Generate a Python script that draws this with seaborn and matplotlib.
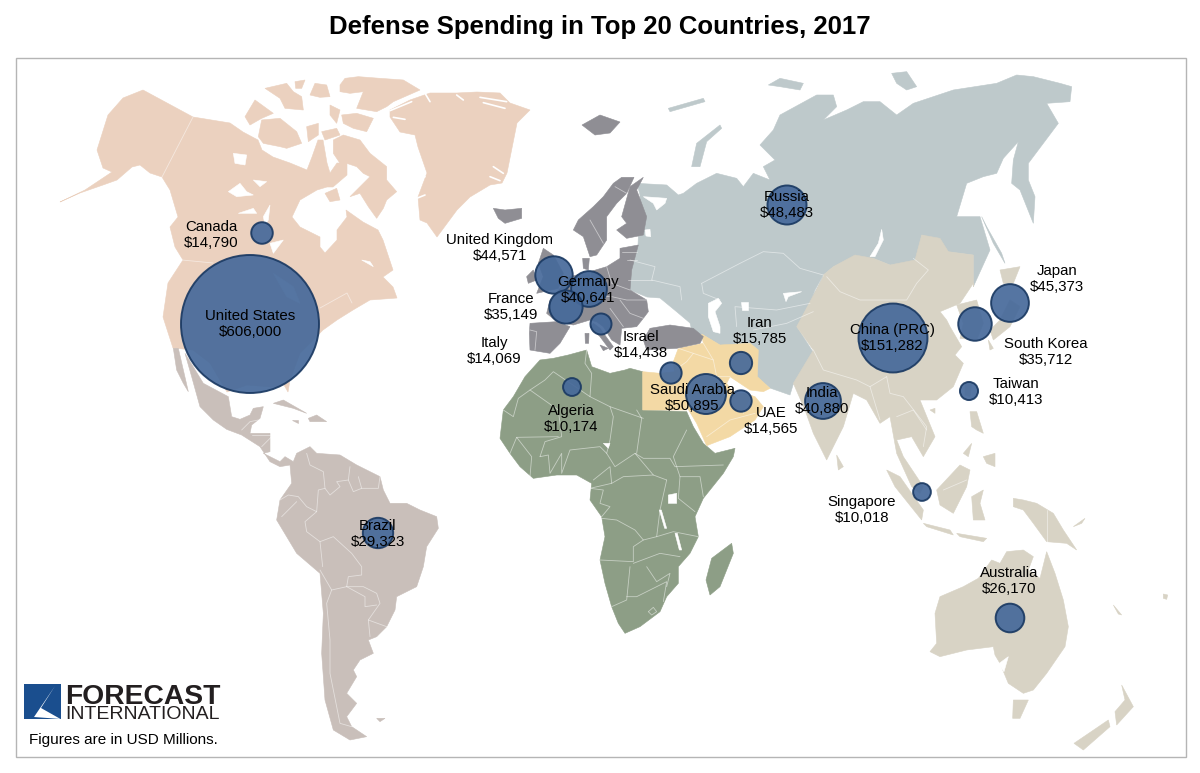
import pandas as pd
import matplotlib.pyplot as plt
import seaborn as sns
from matplotlib.patches import Polygon, Rectangle

# spending figures and where each bubble / label sits on the map
countries = ['United States', 'China (PRC)', 'Saudi Arabia', 'Russia', 'Japan', 'United Kingdom', 'India', 'Germany',
             'South Korea', 'France', 'Brazil', 'Australia', 'Iran', 'Canada', 'UAE', 'Israel', 'Italy', 'Taiwan',
             'Algeria', 'Singapore']
spending = [606000, 151282, 50895, 48483, 45373, 44571, 40880, 40641, 35712, 35149, 29323, 26170, 15785, 14790,
            14565, 14438, 14069, 10413, 10174, 10018]
bubble_x = [250, 893, 706, 787, 1010, 554, 823, 589, 975, 566, 378, 1010, 741, 262, 741, 671, 601, 969, 572, 922]
bubble_y = [324, 338, 394, 205, 303, 275, 401, 289, 324, 307, 533, 618, 363, 233, 401, 373, 324, 391, 387, 492]
label_x = [250, 892, 692, 787, 1057, 500, 822, 588, 1046, 511, 378, 1009, 760, 211, 771, 641, 494, 1016, 571, 862]
label_y = [324, 338, 398, 205, 279, 248, 401, 290, 352, 307, 534, 581, 331, 235, 421, 345, 351, 392, 419, 510]


def crop(x0, y0, pts):
    return [(x0 + x / 3, y0 + y / 3) for x, y in pts]


# North America
north_america = [(60, 202), (80, 193), (103, 185), (117, 180), (132, 167), (140, 165), (150, 173), (162, 177), (170, 190),
                 (178, 217), (170, 227), (175, 247), (183, 260), (168, 283), (163, 317), (173, 348), (193, 350), (210, 363),
                 (227, 392), (247, 385), (273, 387), (284, 385), (288, 392), (290, 380), (300, 353), (323, 330), (337, 320),
                 (353, 310), (370, 300), (397, 298), (393, 287), (383, 277), (393, 270), (383, 240), (378, 230), (363, 222),
                 (346, 210), (347, 217), (337, 230), (337, 240), (325, 253), (320, 247), (320, 237), (300, 227), (292, 217),
                 (300, 200), (317, 190), (327, 187), (333, 187), (347, 175), (347, 163), (337, 163), (330, 173), (327, 163),
                 (323, 140), (318, 140), (312, 157), (307, 170), (290, 163), (273, 157), (262, 150), (258, 140), (243, 132),
                 (230, 123), (193, 117), (143, 90), (123, 98), (108, 115), (97, 150), (103, 168), (112, 172), (85, 190)]
arctic_islands = [crop(230, 60, shape) for shape in [
    [(45, 170), (75, 120), (130, 160), (95, 175), (60, 195)],
    [(85, 230), (95, 180), (150, 175), (200, 215), (215, 250), (170, 265), (150, 260), (100, 250)],
    [(105, 85), (170, 70), (190, 95), (215, 110), (220, 150), (165, 145), (150, 115)],
    [(195, 65), (225, 60), (215, 85), (197, 85)],
    [(255, 70), (290, 75), (300, 110), (270, 112), (240, 105)],
    [(330, 75), (345, 55), (385, 50), (450, 55), (520, 60), (570, 90), (490, 125), (470, 140), (440, 155), (380, 145), (400, 95), (360, 100), (330, 95)],
    [(335, 165), (380, 160), (430, 175), (410, 215), (370, 205), (340, 190)],
    [(300, 135), (330, 150), (320, 190), (300, 165)],
    [(230, 200), (265, 190), (265, 225), (235, 245)],
    [(275, 215), (320, 205), (330, 225), (285, 240)],
    [(310, 240), (340, 225), (390, 240), (420, 280), (470, 320), (470, 360), (500, 395), (470, 420), (460, 445),
     (440, 475), (415, 440), (390, 400), (360, 410), (400, 370), (420, 350), (400, 340), (380, 320), (350, 310),
     (330, 310), (310, 280)],
    [(285, 400), (320, 385), (330, 420), (300, 425)],
]]
greenland = [(390, 110), (410, 100), (430, 93), (457, 93), (477, 92), (500, 93), (510, 103), (530, 110), (517, 123), (513, 143),
             (507, 173), (502, 183), (490, 185), (470, 197), (457, 210), (437, 237), (427, 223), (420, 220), (418, 197),
             (427, 173), (418, 147), (415, 135), (400, 132), (390, 117)]
greenland_fjords = [crop(230, 60, line) for line in [
    [(750, 112), (830, 125)], [(760, 128), (825, 145)], [(790, 320), (820, 340)], [(780, 350), (810, 362)],
    [(490, 172), (525, 178)], [(480, 152), (545, 125)], [(585, 100), (600, 125)], [(680, 105), (700, 120)],
    [(565, 355), (585, 350)], [(560, 415), (585, 405)],
]]
na_lakes = [
    crop(60, 70, [(505, 365), (540, 340), (560, 365), (580, 375), (530, 380)]),
    crop(60, 70, [(535, 430), (580, 415), (590, 430), (550, 430)]),
    crop(60, 70, [(610, 440), (630, 405), (625, 450), (615, 465)]),
    crop(60, 70, [(520, 250), (560, 255), (555, 285), (525, 280)]),
    crop(60, 70, [(580, 330), (620, 335), (600, 350)]),
    crop(60, 70, [(630, 520), (670, 510), (640, 550)]),
    crop(60, 70, [(905, 570), (930, 575), (940, 590)]),
    crop(60, 70, [(640, 610), (700, 650), (720, 700), (680, 680)]),
]
na_borders = [
    [(193, 117), (162, 177)],
    [(182, 260), (213, 263)],
    [(320, 308), (347, 293), (352, 303)],
]

# Latin America
latin_america = crop(170, 340, [
    (45, 40), (100, 130), (175, 170), (185, 230), (210, 238), (240, 225), (250, 205), (280, 200), (270, 235), (245, 255), (240, 280),
    (300, 280), (300, 335), (280, 340), (330, 365), (345, 350), (370, 365), (380, 340), (420, 320), (440, 340), (510, 345), (560, 375),
    (630, 410), (640, 450), (660, 490), (710, 490), (750, 510), (800, 530), (805, 565), (770, 620), (760, 680), (740, 740), (680, 770),
    (675, 810), (650, 860), (620, 890), (595, 900), (610, 940), (570, 960), (550, 990), (560, 1010), (530, 1060), (560, 1090), (530, 1130),
    (545, 1160), (590, 1190), (540, 1200), (490, 1170), (465, 1080), (455, 940), (460, 820), (450, 700), (380, 640), (320, 540), (330, 480),
    (365, 430), (360, 375), (330, 380), (300, 365), (270, 320), (215, 285), (170, 268), (130, 240), (90, 200), (65, 110)])
latin_islands = [
    crop(170, 340, [(10, 25), (25, 25), (55, 155), (40, 130), (20, 90)]),
    crop(170, 340, [(310, 190), (340, 180), (410, 220), (370, 205)]),
    crop(170, 340, [(415, 235), (440, 225), (470, 245), (420, 245)]),
    crop(170, 340, [(365, 241), (385, 241), (385, 249)]),
    crop(170, 340, [(620, 1135), (645, 1135), (630, 1145)]),
]
latin_borders = [crop(170, 340, line) for line in [
    [(410, 340), (420, 375), (460, 395), (465, 445), (445, 450), (440, 515), (405, 545), (410, 575), (450, 605), (458, 680)],
    [(465, 445), (480, 465), (510, 440), (500, 425), (535, 420), (540, 380)],
    [(535, 420), (550, 455), (575, 445), (565, 410)],
    [(575, 445), (625, 445), (630, 410)],
    [(330, 480), (355, 465), (385, 470), (410, 500), (440, 515)],
    [(335, 530), (380, 485)],
    [(450, 605), (490, 590), (545, 640), (575, 680), (575, 705), (535, 710), (530, 740), (580, 740), (620, 760), (630, 790), (595, 840), (600, 890)],
    [(450, 690), (485, 750), (530, 740)],
    [(485, 750), (470, 790), (480, 900), (480, 1000), (510, 1150), (545, 1160)],
    [(530, 740), (585, 770), (585, 800), (620, 795)],
    [(595, 840), (650, 860)],
    [(215, 270), (240, 245), (265, 240)],
    [(245, 285), (300, 285)],
    [(275, 320), (305, 290)],
]]

# Africa
africa = crop(490, 340, [
    (458, 95), (458, 210), (590, 215), (610, 260), (640, 310), (675, 340), (735, 325), (730, 350), (700, 400), (640, 475), (615, 530),
    (625, 590), (600, 640), (565, 680), (565, 730), (530, 770), (510, 815), (450, 860), (405, 880), (385, 850), (365, 800), (345, 730),
    (330, 660), (345, 590), (335, 530), (300, 480), (305, 430), (260, 405), (200, 405), (130, 415), (90, 380), (60, 340), (30, 295),
    (40, 210), (70, 170), (105, 110), (150, 60), (190, 55), (235, 45), (290, 30), (305, 80), (360, 100), (405, 90), (420, 85)])
madagascar = crop(490, 340, [(725, 610), (730, 640), (690, 740), (660, 765), (648, 720), (665, 655)])
africa_lakes = [
    crop(490, 340, [(535, 465), (560, 460), (560, 490), (535, 490)]),
    crop(490, 340, [(340, 310), (360, 310), (355, 325)]),
    crop(490, 340, [(508, 510), (514, 510), (530, 565), (524, 565)]),
    crop(490, 340, [(555, 580), (562, 580), (575, 630), (568, 630)]),
]
africa_borders = [crop(490, 340, line) for line in [
    [(290, 30), (285, 70), (305, 100), (300, 170), (360, 200), (460, 235)],
    [(360, 200), (370, 230), (360, 300), (350, 340), (375, 380), (435, 340), (490, 405), (530, 420)],
    [(300, 170), (190, 95), (165, 120), (120, 150), (205, 210), (215, 290), (165, 305), (150, 350)],
    [(120, 150), (85, 175), (70, 230), (40, 210)],
    [(205, 290), (80, 292), (60, 340)],
    [(80, 292), (125, 350), (120, 410)],
    [(150, 350), (175, 345), (180, 400), (215, 340), (215, 400), (240, 330), (330, 320), (350, 340)],
    [(310, 420), (360, 380), (365, 430), (300, 445), (340, 450), (330, 490), (360, 500), (335, 530)],
    [(365, 430), (400, 410), (490, 405)],
    [(435, 340), (460, 355), (540, 355), (555, 380), (700, 375)],
    [(590, 270), (550, 350), (570, 410), (630, 410), (640, 470)],
    [(530, 420), (510, 510), (500, 590), (460, 600), (435, 570), (380, 540), (335, 535)],
    [(570, 410), (565, 475), (615, 515)],
    [(500, 590), (550, 575), (625, 590)],
    [(330, 660), (430, 665), (430, 620), (460, 600)],
    [(430, 670), (510, 640), (570, 650)],
    [(420, 680), (410, 780), (365, 800)],
    [(470, 680), (500, 725), (540, 700), (530, 740)],
    [(410, 770), (440, 770), (530, 725), (520, 785)],
    [(440, 210), (455, 235), (440, 340)],
    [(475, 815), (490, 802), (500, 815), (485, 825), (475, 815)],
]]

# Middle East
egypt = crop(490, 340, [(458, 95), (510, 100), (555, 95), (575, 120), (578, 140), (590, 210), (458, 210)])
middle_east = crop(430, 180, [
    (745, 505), (820, 490), (815, 462), (870, 495), (960, 490), (985, 510), (982, 590), (1020, 625), (1000, 635), (960, 630), (900, 590),
    (890, 610), (910, 640), (945, 640), (975, 650), (1000, 680), (975, 720), (900, 770), (830, 797), (800, 730), (770, 680), (745, 620),
    (735, 590), (730, 545)])
me_borders = [crop(430, 180, line) for line in [
    [(745, 505), (790, 520), (770, 545), (735, 570)],
    [(820, 490), (850, 540), (860, 590), (900, 590)],
    [(790, 520), (850, 540)],
    [(830, 770), (900, 720), (975, 700)],
    [(960, 660), (940, 700)],
]]

# Europe
europe_mainland = crop(430, 180, [
    (370, 350), (420, 290), (480, 275), (530, 260), (570, 235), (570, 205), (625, 195), (605, 270), (600, 330), (650, 360), (655, 395),
    (640, 415), (620, 440), (575, 445), (570, 495), (545, 480), (520, 440), (500, 425), (480, 420), (430, 435), (380, 425), (350, 400),
    (360, 360)])
europe_islands = [
    crop(430, 180, [(300, 430), (380, 425), (420, 440), (390, 490), (360, 520), (300, 510), (298, 460)]),
    crop(430, 180, [(430, 150), (445, 120), (490, 80), (520, 50), (550, 10), (575, -8), (612, -8), (590, 40), (560, 70), (530, 110), (530, 180), (500, 225), (480, 230), (460, 170)]),
    crop(430, 180, [(600, 20), (640, -8), (620, 30), (650, 110), (640, 165), (590, 175), (560, 150), (590, 130), (575, 110)]),
    crop(430, 180, [(458, 235), (478, 235), (475, 270), (460, 265)]),
    crop(430, 180, [(490, 430), (510, 445), (550, 500), (540, 510), (510, 470), (480, 440)]),
    crop(430, 180, [(340, 205), (370, 225), (400, 280), (385, 325), (320, 340), (340, 290), (325, 250)]),
    crop(430, 180, [(290, 290), (310, 270), (320, 300), (295, 310)]),
    crop(430, 180, [(465, 460), (477, 460), (476, 490), (466, 490)]),
    crop(430, 180, [(510, 495), (535, 505), (520, 512)]),
    crop(430, 180, [(640, 480), (660, 445), (720, 435), (790, 445), (820, 470), (810, 490), (740, 505), (650, 510)]),
    crop(430, 180, [(190, 85), (225, 90), (275, 85), (275, 115), (225, 130), (205, 115)]),
    [(582, 125), (600, 115), (620, 122), (610, 133), (595, 135)],
]
europe_borders = [crop(430, 180, line) for line in [
    [(300, 450), (320, 455), (315, 510)],
    [(480, 120), (520, 190)],
    [(590, 40), (555, 20)],
    [(480, 275), (490, 345), (540, 350)],
    [(530, 260), (545, 310), (600, 330)],
    [(545, 350), (590, 360), (650, 360)],
    [(570, 360), (600, 400), (640, 415)],
    [(590, 240), (620, 240)],
    [(575, 215), (620, 215)],
    [(540, 385), (580, 440)],
]]

# Russia and the belt down to Pakistan
russia_central = crop(620, 70, [
    (50, 340), (140, 345), (175, 375), (190, 370), (230, 340), (290, 310), (350, 325), (370, 350), (400, 310), (450, 330), (430, 290),
    (465, 270), (420, 225), (460, 180), (480, 135), (590, 75), (640, 75), (650, 110), (610, 150), (680, 120), (730, 95), (780, 95),
    (830, 135), (880, 100), (1000, 60), (1130, 40), (1190, 15), (1240, 20), (1320, 40), (1355, 50), (1350, 95), (1280, 100), (1315, 160),
    (1270, 220), (1225, 280), (1225, 330), (1245, 380), (1240, 460), (1200, 360), (1175, 340), (1180, 270), (1195, 215), (1150, 265), (1130, 310),
    (1090, 320), (1040, 340), (1010, 440), (1080, 440), (1110, 540), (1060, 650), (1060, 555), (980, 545), (960, 510), (905, 495),
    (890, 580), (810, 585), (760, 565), (700, 560), (640, 590), (610, 615), (585, 660), (570, 700)])
russia_central += [(823, 277), (797, 327), (813, 352), (793, 385), (790, 395), (770, 388), (757, 377), (758, 350), (750, 343),
                   (723, 347), (702, 334), (693, 335), (690, 323), (677, 312), (660, 298), (647, 297), (630, 290), (630, 270),
                   (638, 245), (640, 195), (637, 183)]
russia_islands = [
    crop(620, 70, [(1085, 440), (1100, 470), (1145, 550), (1155, 580), (1120, 520)]),
    crop(620, 70, [(215, 290), (230, 220), (300, 165), (305, 175), (260, 215), (240, 290)]),
    crop(620, 70, [(445, 45), (480, 25), (550, 40), (540, 60), (480, 50)]),
    crop(620, 70, [(815, 10), (860, 5), (890, 50), (860, 60), (830, 40)]),
    crop(620, 70, [(145, 115), (250, 85), (255, 95), (150, 125)]),
]
inland_seas = [
    crop(620, 70, [(70, 380), (140, 385), (135, 400), (110, 420), (100, 400)]),
    crop(620, 70, [(75, 480), (90, 478), (92, 500), (78, 498)]),
    crop(620, 70, [(265, 700), (295, 685), (305, 700), (285, 725), (300, 770), (300, 790), (280, 785), (265, 740)]),
    crop(620, 70, [(362, 695), (385, 695), (385, 720), (365, 720)]),
    crop(620, 70, [(490, 670), (545, 665), (505, 680), (498, 695)]),
    crop(620, 70, [(785, 478), (790, 510), (765, 560), (750, 560), (775, 520)]),
]
russia_borders = [crop(620, 70, line) for line in [
    [(245, 640), (360, 580), (430, 545), (490, 550), (540, 595), (610, 615)],
    [(245, 640), (250, 670), (300, 690)],
    [(350, 770), (345, 710), (470, 720), (570, 700)],
    [(30, 570), (105, 590), (95, 630), (180, 650), (185, 690)],
    [(25, 630), (95, 630)],
    [(400, 780), (500, 760), (580, 725)],
]]

# Asia Pacific
asia_mainland = crop(620, 70, [
    (610, 615), (640, 590), (705, 555), (760, 565), (810, 585), (885, 570), (905, 495), (960, 505), (985, 545), (1060, 555), (1060, 650)])
asia_mainland += crop(780, 240, [
    (580, 130), (540, 190), (480, 215), (500, 240), (510, 260), (545, 320), (525, 345), (550, 370), (520, 440), (470, 480), (420, 480), (465, 590),
    (430, 650), (395, 590), (350, 600), (370, 650), (430, 740), (420, 760), (395, 740), (350, 640), (330, 530), (300, 550), (260, 480), (220, 460),
    (190, 560), (140, 660), (100, 580), (75, 510), (40, 430), (100, 330), (50, 260), (130, 110)])
asia_islands = [crop(780, 240, shape) for shape in [
    [(530, 195), (590, 180), (610, 250), (590, 300), (540, 295), (550, 250)],
    [(660, 90), (720, 80), (700, 130), (670, 130)],
    [(690, 180), (660, 240), (630, 270), (640, 300), (690, 260), (720, 200)],
    [(625, 300), (640, 325), (630, 330)],
    [(555, 430), (575, 430), (570, 470), (555, 465)],
    [(450, 510), (465, 505), (465, 520)],
    [(170, 645), (190, 680), (175, 690)],
    [(320, 690), (360, 710), (430, 810), (425, 840), (385, 790), (345, 740)],
    [(430, 850), (510, 870), (520, 885), (440, 860)],
    [(530, 880), (620, 895), (610, 905), (540, 890)],
    [(470, 750), (540, 675), (570, 690), (560, 740), (520, 820), (480, 795)],
    [(575, 770), (610, 750), (600, 790), (615, 840), (580, 840)],
    [(570, 515), (590, 515), (610, 580), (590, 570), (575, 560)],
    [(610, 650), (645, 640), (645, 680), (620, 670)],
    [(550, 640), (575, 610), (565, 650)],
    [(700, 775), (730, 780), (770, 790), (820, 820), (850, 870), (890, 930), (860, 910), (800, 905), (760, 850), (730, 810), (700, 800)],
    [(880, 860), (915, 835), (905, 850)],
]]
asia_islands += [crop(900, 540, shape) for shape in [
    [(90, 335), (110, 310), (105, 220), (120, 170), (190, 140), (235, 115), (275, 60), (300, 70), (320, 35), (370, 30), (400, 50), (385, 90),
     (420, 115), (440, 35), (465, 100), (490, 180), (505, 260), (495, 320), (440, 400), (400, 450), (370, 460), (325, 430), (300, 370),
     (285, 345), (280, 320), (200, 330), (120, 350)],
    [(340, 480), (385, 480), (360, 535), (338, 535)],
    [(665, 435), (700, 500), (650, 555), (645, 515), (675, 480)],
    [(625, 540), (630, 560), (550, 630), (522, 610)],
    [(640, 195), (665, 225), (655, 222)],
    [(790, 162), (803, 165), (800, 178), (790, 175)],
]]
australia_gulf = crop(900, 540, [(295, 372), (325, 350), (312, 395)])
asia_borders = [crop(620, 70, [(620, 620), (660, 665), (720, 690), (860, 690), (890, 640), (925, 600), (880, 565)])]
asia_borders += [crop(780, 240, line) for line in [
    [(100, 330), (130, 390), (230, 420), (270, 440), (320, 410)],
    [(270, 440), (300, 540)],
    [(320, 410), (330, 460), (370, 470), (440, 560), (430, 620)],
    [(350, 530), (400, 510), (440, 570)],
    [(800, 810), (800, 905)],
    [(490, 750), (560, 720)],
]]

land_colors = {'na': '#EBD1BF', 'latin': '#C9BFBA', 'africa': '#8D9E86', 'me': '#F3D9A5',
               'europe': '#8F8E94', 'russia': '#BEC9CB', 'asia': '#D8D3C5'}


def draw_land(ax, shapes, color):
    for shape in shapes:
        ax.add_patch(Polygon(shape, closed=True, facecolor=color, edgecolor=color, linewidth=0.4, zorder=1))


def draw_lines(ax, lines, color='white', lw=0.6, alpha=0.5):
    for line in lines:
        xs, ys = zip(*line)
        ax.plot(xs, ys, color=color, lw=lw, alpha=alpha, zorder=2, solid_joinstyle='round')


sns.set_theme(style='white')
plt.rcParams['font.family'] = ['Liberation Sans', 'DejaVu Sans']

df = pd.DataFrame({'country': countries, 'spending': spending, 'x': bubble_x, 'y': bubble_y})

fig = plt.figure(figsize=(12, 7.73), dpi=100)
ax = fig.add_axes([0, 0, 1, 1])

draw_land(ax, [north_america, greenland] + arctic_islands, land_colors['na'])
draw_land(ax, [latin_america] + latin_islands, land_colors['latin'])
draw_land(ax, [africa, madagascar], land_colors['africa'])
draw_land(ax, [russia_central] + russia_islands, land_colors['russia'])
draw_land(ax, [egypt, middle_east], land_colors['me'])
draw_land(ax, [europe_mainland] + europe_islands, land_colors['europe'])
draw_land(ax, [asia_mainland] + asia_islands, land_colors['asia'])
draw_land(ax, na_lakes + africa_lakes + inland_seas + [australia_gulf], 'white')

draw_lines(ax, na_borders + latin_borders + africa_borders + me_borders + europe_borders + russia_borders + asia_borders)
draw_lines(ax, greenland_fjords, lw=1.2, alpha=1)

sns.scatterplot(data=df, x='x', y='y', size='spending', sizes=(0, 9872), size_norm=(0, 606000), legend=False,
                color='#46699A', alpha=0.92, edgecolor='#1B3A63', linewidth=1.4, zorder=3, ax=ax)

for name, value, x, y in zip(countries, spending, label_x, label_y):
    ax.text(x, y, f'{name}\n${value:,}', ha='center', va='center', fontsize=10.8, color='black',
            linespacing=1.22, zorder=4)

ax.text(600, 27, 'Defense Spending in Top 20 Countries, 2017', ha='center', va='center',
        fontsize=18.5, fontweight='bold', color='black')

# frame round the map
ax.add_patch(Rectangle((16, 58), 1169.5, 699, fill=False, edgecolor='#B5B5B5', linewidth=1.0, zorder=5))

# logo and note
ax.add_patch(Polygon([(23.5, 684), (60.5, 684), (60.5, 719), (23.5, 719)], facecolor='#1A4E8E', edgecolor='none', zorder=5))
ax.add_patch(Polygon([(55, 686), (34, 717), (60.5, 719), (41, 708)], facecolor='white', edgecolor='none', zorder=6))
ax.text(65, 704, 'FORECAST', ha='left', va='baseline', fontsize=20.3, fontweight='bold', color='#231F20', zorder=5)
ax.text(65.5, 719, 'INTERNATIONAL', ha='left', va='baseline', fontsize=14, color='#231F20', zorder=5)
ax.text(29, 740, 'Figures are in USD Millions.', ha='left', va='center', fontsize=11, color='black', zorder=5)

ax.set_xlim(0, 1200)
ax.set_ylim(773, 0)
ax.axis('off')

fig.savefig('out.png', dpi=100)
